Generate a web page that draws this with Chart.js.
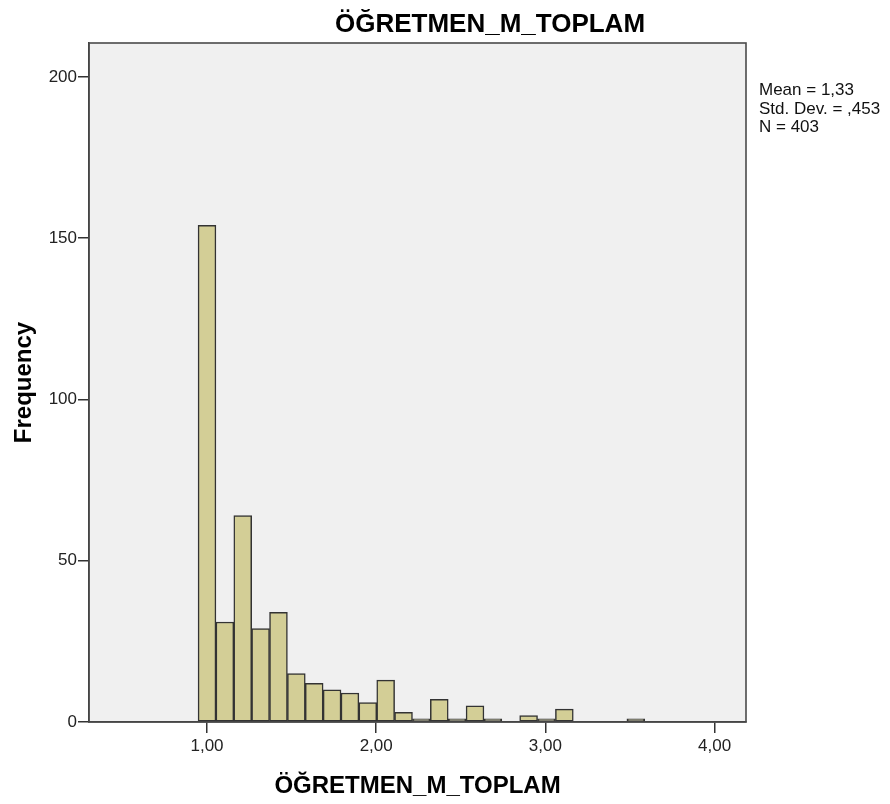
<!DOCTYPE html>
<html>
<head>
<meta charset="utf-8">
<script src="https://cdn.jsdelivr.net/npm/chart.js@4.4.0/dist/chart.umd.min.js"></script>
<style>
  html, body { margin: 0; padding: 0; background: #ffffff; }
  #wrap { width: 890px; height: 804px; position: relative; }
</style>
</head>
<body>
<div id="wrap"><canvas id="c" width="890" height="804"></canvas></div>
<script>
// ---- data ----
const chartTitle = "ÖĞRETMEN_M_TOPLAM";
const xAxisTitle = "ÖĞRETMEN_M_TOPLAM";
const yAxisTitle = "Frequency";
const binMidpoints = [1.0000, 1.1056, 1.2112, 1.3168, 1.4224, 1.5280, 1.6336, 1.7392, 1.8448, 1.9504,
                      2.0560, 2.1616, 2.2672, 2.3728, 2.4784, 2.5840, 2.6896, 2.7952, 2.9008, 3.0064,
                      3.1120, 3.2176, 3.3232, 3.4288, 3.5344];
const frequencies = [154, 31, 64, 29, 34, 15, 12, 10, 9, 6,
                     13, 3, 1, 7, 1, 5, 1, 0, 2, 1,
                     4, 0, 0, 0, 1];
const xTickValues = [1, 2, 3, 4];
const yTickValues = [0, 50, 100, 150, 200];
const statsLines = ["Mean = 1,33", "Std. Dev. = ,453", "N = 403"];

const FONT = "'Liberation Sans', Arial, sans-serif";

const points = binMidpoints.map((x, i) => ({ x: x, y: frequencies[i] }));

const decorPlugin = {
  id: 'decor',
  beforeDraw(chart) {
    const { ctx, chartArea: a } = chart;
    ctx.save();
    ctx.fillStyle = '#F0F0F0';
    ctx.fillRect(a.left, a.top, a.right - a.left, a.bottom - a.top);
    ctx.restore();
  },
  afterDraw(chart) {
    const { ctx, chartArea: a } = chart;
    ctx.save();
    // frame
    ctx.strokeStyle = '#4a4a4a';
    ctx.lineWidth = 1.6;
    ctx.strokeRect(a.left, a.top, a.right - a.left, a.bottom - a.top);
    // title
    ctx.fillStyle = '#000';
    ctx.font = "bold 26px " + FONT;
    ctx.textAlign = 'center';
    ctx.textBaseline = 'alphabetic';
    ctx.fillText(chartTitle, 490, 32);
    // x title
    ctx.font = "bold 24px " + FONT;
    ctx.fillText(xAxisTitle, (a.left + a.right) / 2, 793);
    // y title
    ctx.save();
    ctx.translate(30.5, (a.top + a.bottom) / 2);
    ctx.rotate(-Math.PI / 2);
    ctx.font = "bold 24px " + FONT;
    ctx.fillText(yAxisTitle, 0, 0);
    ctx.restore();
    // stats
    ctx.font = "17px " + FONT;
    ctx.textAlign = 'left';
    ctx.fillStyle = '#111';
    statsLines.forEach((s, i) => ctx.fillText(s, 759, 95 + i * 18.6));
    ctx.restore();
  }
};

new Chart(document.getElementById('c'), {
  type: 'bar',
  data: {
    datasets: [{
      data: points,
      backgroundColor: '#D3CE96',
      borderColor: '#333333',
      borderWidth: 1.5,
      borderSkipped: false,
      barPercentage: 1.0,
      categoryPercentage: 1.0
    }]
  },
  options: {
    responsive: false,
    animation: false,
    layout: { padding: { left: 0, top: 43, right: 144, bottom: 0 } },
    plugins: { legend: { display: false }, tooltip: { enabled: false }, title: { display: false } },
    scales: {
      x: {
        type: 'linear',
        min: 0.3026,
        max: 4.1856,
        offset: false,
        afterBuildTicks(scale) { scale.ticks = xTickValues.map(v => ({ value: v })); },
        afterFit(scale) { scale.height = 82; },
        grid: { display: true, offset: false, drawOnChartArea: false, drawTicks: true, tickLength: 11, color: '#333', lineWidth: 1.5 },
        border: { display: true, color: '#333', width: 1.5 },
        ticks: {
          autoSkip: false, maxRotation: 0, padding: 3, color: '#222',
          font: { family: FONT, size: 17 },
          callback: v => v.toFixed(2).replace('.', ',')
        }
      },
      y: {
        type: 'linear',
        min: 0,
        max: 210.5,
        afterBuildTicks(scale) { scale.ticks = yTickValues.map(v => ({ value: v })); },
        afterFit(scale) { scale.width = 89; },
        grid: { display: true, offset: false, drawOnChartArea: false, drawTicks: true, tickLength: 11, color: '#333', lineWidth: 1.5 },
        border: { display: true, color: '#333', width: 1.5 },
        ticks: {
          autoSkip: false, padding: 1, color: '#222',
          font: { family: FONT, size: 17 },
          callback: v => String(v)
        }
      }
    }
  },
  plugins: [decorPlugin]
});
</script>
</body>
</html>
